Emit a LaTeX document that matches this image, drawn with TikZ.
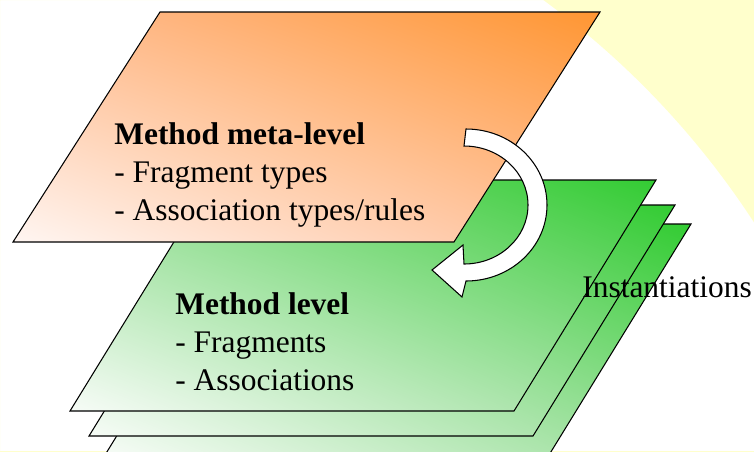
\documentclass[tikz,border=0pt]{standalone}
\usepackage{fontspec}
\setmainfont{Liberation Serif}
\usetikzlibrary{shadings}
\definecolor{metaorange}{RGB}{255,150,50}
\definecolor{metamid}{RGB}{255,190,150}
\definecolor{metapale}{RGB}{255,246,242}
\definecolor{lvlgreen}{RGB}{51,204,51}
\definecolor{lvlmid}{RGB}{152,222,152}
\definecolor{lvlpale}{RGB}{247,252,247}
\definecolor{bgyellow}{RGB}{255,255,204}
\tikzset{
  plane/.style={draw=black,line width=0.6pt},
  metaplane/.style={plane,upper right=metaorange,lower left=metapale,
    upper left=metamid,lower right=metamid},
  lvlplane/.style={plane,upper right=lvlgreen,lower left=lvlpale,
    upper left=lvlmid,lower right=lvlmid},
  lbl/.style={inner sep=0pt,anchor=base west,align=left,font=\fontsize{17.9}{21.5}\selectfont}
}
\begin{document}
\begin{tikzpicture}[x=0.02cm,y=-0.02cm]
\useasboundingbox (0,0) rectangle (754,451);
\begin{scope}
\clip (0,0) rectangle (754,451);
\fill[bgyellow,even odd rule] (0,0) rectangle (754,451) (46,682) circle[radius=844];
\end{scope}
\foreach \s/\t in {35/44,19/25,0/0}
  \shade[lvlplane,shift={(\s,\t)}] (70,411) -- (514,411) -- (656,180) -- (212,180) -- cycle;
\shade[metaplane] (13,242) -- (454,242) -- (600,12) -- (160,12) -- cycle;
\draw[fill=white,line width=0.6pt] (466,129) arc[start angle=-90,end angle=90,x radius=81,y radius=76]
  -- (462,297) -- (432,270) -- (463,245) -- (464,264)
  arc[start angle=90,end angle=-90,x radius=64,y radius=59] -- cycle;
\node[lbl] (meta) at (114,220) {\textbf{Method meta-level}\\- Fragment types\\- Association types/rules};
\node[lbl] (mlevel) at (175,390) {\textbf{Method level}\\- Fragments\\- Associations};
\node[lbl] (inst) at (582,297) {Instantiations};
\end{tikzpicture}
\end{document}
